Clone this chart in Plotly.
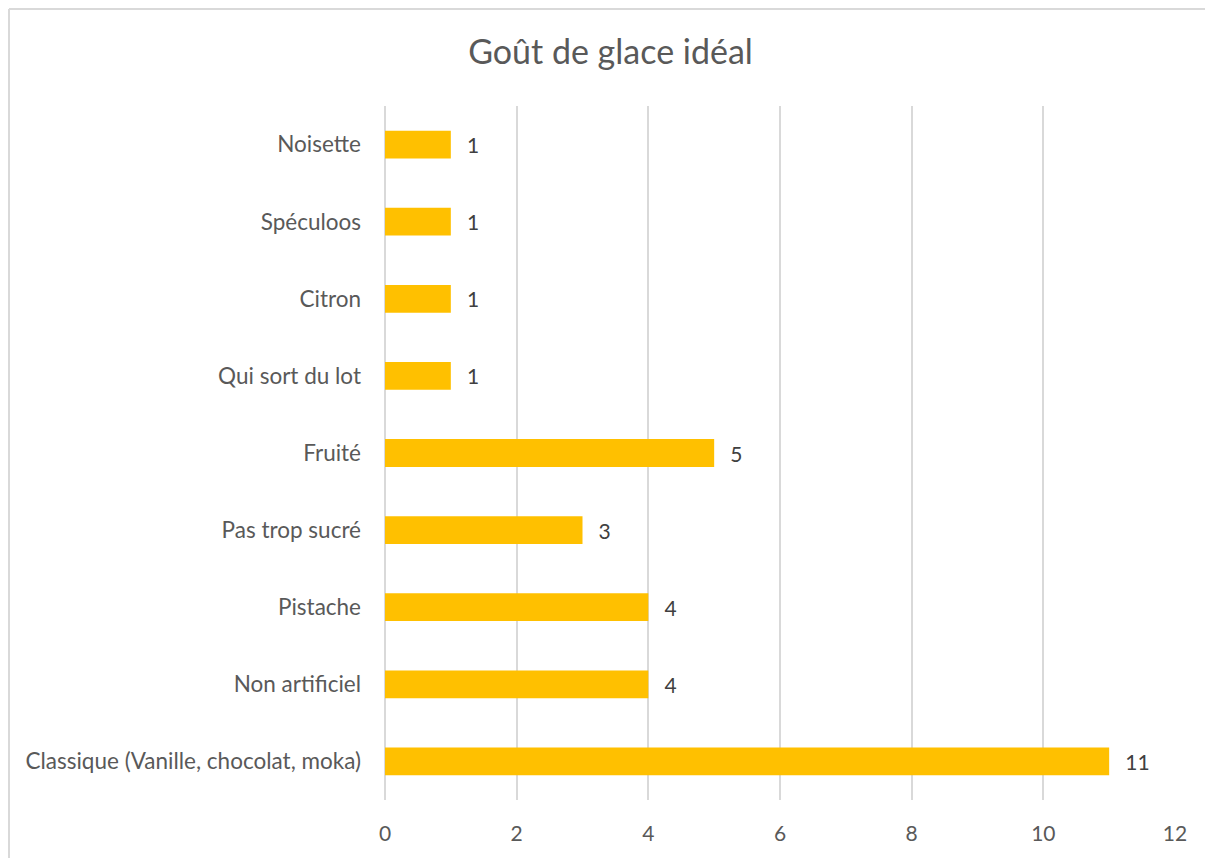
import plotly.graph_objects as go

categories = ["Classique (Vanille, chocolat, moka)", "Non artificiel", "Pistache",
              "Pas trop sucré", "Fruité", "Qui sort du lot", "Citron", "Spéculoos", "Noisette"]
values = [11, 4, 4, 3, 5, 1, 1, 1, 1]
x_ticks = [0, 2, 4, 6, 8, 10, 12]
title_text = "Goût de glace idéal"

# page has an 8px body margin, so the figure is shifted by 8px
OFF = 8
W, H = 1213 - OFF, 858 - OFF
L = 385 - OFF
T = 106 - OFF
R = W - (1175 - OFF)
B = H - (800 - OFF)

fig = go.Figure()
fig.add_trace(go.Bar(
    y=categories, x=values, orientation="h",
    marker=dict(color="#FFC000", line=dict(width=0)),
    width=0.36,
    text=[f"\u2009\u2009\u2009\u2009\u2009{v}" for v in values],
    textposition="outside",
    textfont=dict(family="Lato", size=21, color="#404040"),
    cliponaxis=False,
))

fig.update_layout(
    width=W, height=H,
    margin=dict(l=L, r=R, t=T, b=B, pad=0),
    paper_bgcolor="white", plot_bgcolor="white",
    showlegend=False,
    title=dict(text=title_text, x=0.5, xref="container", xanchor="center",
               y=1 - (52 - OFF) / H, yanchor="middle",
               font=dict(family="Lato", size=34, color="#595959")),
    xaxis=dict(range=[0, 12], tickvals=x_ticks, showgrid=True,
               gridcolor="#D9D9D9", gridwidth=1.6, zeroline=True,
               zerolinecolor="#D9D9D9", zerolinewidth=1.6,
               showline=False, ticks="", ticklabelstandoff=19,
               tickfont=dict(family="Lato", size=21, color="#595959")),
    yaxis=dict(categoryorder="array", categoryarray=categories,
               showgrid=False, showline=False, ticks="",
               ticklabelstandoff=23,
               tickfont=dict(family="Lato", size=22.5, color="#595959")),
)

# chart border (outer frame: only top and left edges are visible)
border = dict(color="#D9D9D9", width=2)
fig.add_shape(type="line", xref="paper", yref="paper",
              xsizemode="pixel", ysizemode="pixel", xanchor=0, yanchor=0,
              x0=1 - L, x1=W - L, y0=(H - B) - 1, y1=(H - B) - 1,
              line=border, layer="below")
fig.add_shape(type="line", xref="paper", yref="paper",
              xsizemode="pixel", ysizemode="pixel", xanchor=0, yanchor=0,
              x0=1 - L, x1=1 - L, y0=-B, y1=(H - B) - 1,
              line=border, layer="below")

fig.write_html("out.html")
